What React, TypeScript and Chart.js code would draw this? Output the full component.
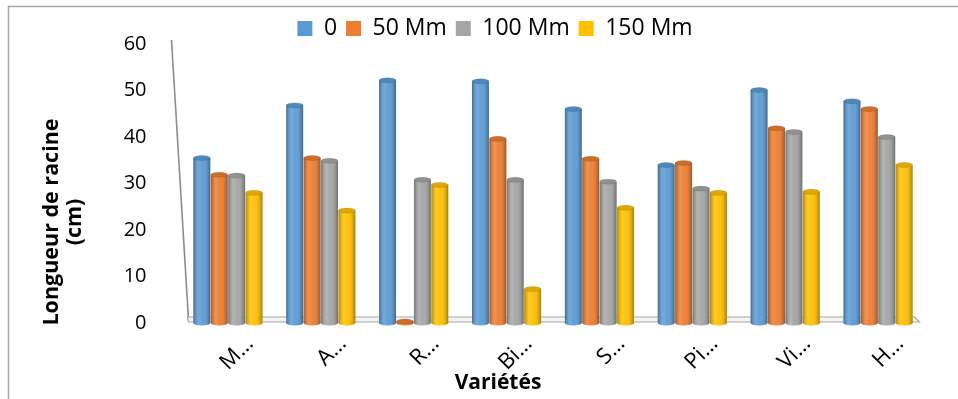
import { useEffect, useRef } from 'react';
import { Chart, registerables } from 'chart.js';

Chart.register(...registerables);

const categories = ['M…', 'A…', 'R…', 'Bi…', 'S…', 'Pi…', 'Vi…', 'H…'];
const seriesNames = ['0', '50 Mm', '100 Mm', '150 Mm'];
const values0 = [35.5, 46.8, 52.2, 52.0, 46.0, 34.0, 50.1, 47.7];
const values50 = [31.9, 35.5, 0.3, 39.6, 35.3, 34.4, 41.9, 46.0];
const values100 = [31.7, 34.9, 30.8, 30.8, 30.4, 28.9, 41.1, 40.0];
const values150 = [28.0, 24.2, 29.7, 7.3, 24.8, 28.0, 28.2, 34.0];
const yTicks = [0, 10, 20, 30, 40, 50, 60];
const colors = ['#5B9BD5', '#ED7D31', '#A5A5A5', '#FFC000'];
const yTitle = ['Longueur de racine', '(cm)'];
const xTitle = 'Variétés';

const FONT = '"Open Sans", "Noto Sans", sans-serif';

const deco = {
  id: 'deco',
  beforeDraw(chart: any) {
    const ctx = chart.ctx;
    ctx.save();
    ctx.fillStyle = '#ffffff';
    ctx.fillRect(0, 0, chart.width, chart.height);
    ctx.strokeStyle = '#a6a6a6';
    ctx.lineWidth = 1.5;
    ctx.beginPath();
    ctx.moveTo(8.5, chart.height);
    ctx.lineTo(8.5, 6.5);
    ctx.lineTo(chart.width, 6.5);
    ctx.stroke();
    ctx.restore();
  },
  beforeDatasetsDraw(chart: any) {
    const { ctx, chartArea: a } = chart;
    ctx.save();
    ctx.strokeStyle = '#8c8c8c';
    ctx.lineWidth = 1.6;
    ctx.beginPath();
    ctx.moveTo(a.left - 10, a.top - 4);
    ctx.lineTo(a.left + 7, a.bottom - 3);
    ctx.stroke();
    ctx.beginPath();
    ctx.moveTo(a.left + 6, a.bottom - 6);
    ctx.lineTo(a.right - 10, a.bottom - 6);
    ctx.lineTo(a.right - 5, a.bottom - 1);
    ctx.lineTo(a.left + 7, a.bottom - 1);
    ctx.closePath();
    ctx.fillStyle = '#f4f4f4';
    ctx.fill();
    ctx.strokeStyle = '#a6a6a6';
    ctx.lineWidth = 1.2;
    ctx.stroke();
    ctx.restore();
  },
  afterDatasetsDraw(chart: any) {
    const ctx = chart.ctx;
    ctx.save();
    chart.getSortedVisibleDatasetMetas().forEach((meta: any) => {
      const col = colors[meta.index];
      meta.data.forEach((el: any) => {
        const { x, y, base, width } = el.getProps(['x', 'y', 'base', 'width'], true);
        const l = x - width / 2;
        const g = ctx.createLinearGradient(l, 0, l + width, 0);
        g.addColorStop(0, 'rgba(0,0,0,0.30)');
        g.addColorStop(0.3, 'rgba(255,255,255,0.16)');
        g.addColorStop(0.55, 'rgba(255,255,255,0.04)');
        g.addColorStop(1, 'rgba(0,0,0,0.34)');
        ctx.beginPath();
        ctx.ellipse(x, base, width / 2, 2.5, 0, 0, Math.PI);
        ctx.fillStyle = col;
        ctx.fill();
        ctx.fillStyle = g;
        ctx.fill();
        ctx.fillRect(l, y, width, base - y);
        ctx.beginPath();
        ctx.ellipse(x, y, width / 2, 2.5, 0, 0, Math.PI * 2);
        ctx.fillStyle = col;
        ctx.fill();
        ctx.fillStyle = 'rgba(0,0,0,0.12)';
        ctx.fill();
        ctx.strokeStyle = 'rgba(0,0,0,0.18)';
        ctx.lineWidth = 0.6;
        ctx.stroke();
      });
    });
    ctx.restore();
  },
  afterDraw(chart: any) {
    const ctx = chart.ctx;
    ctx.save();
    ctx.fillStyle = '#000';
    ctx.textAlign = 'center';
    ctx.textBaseline = 'middle';
    ctx.font = `bold 21.5px ${FONT}`;
    ctx.translate(63, 222);
    ctx.rotate(-Math.PI / 2);
    ctx.fillText(yTitle[0], 0, -11);
    ctx.fillText(yTitle[1], 0, 12);
    ctx.restore();
    ctx.save();
    ctx.fillStyle = '#000';
    ctx.textAlign = 'center';
    ctx.textBaseline = 'middle';
    ctx.font = `bold 21px ${FONT}`;
    ctx.fillText(xTitle, 498, 383);
    ctx.restore();
  },
};

export default function App() {
  const ref = useRef<HTMLCanvasElement | null>(null);
  useEffect(() => {
    document.body.style.margin = '0';
    const canvas = ref.current;
    if (!canvas) return;
    const data = [values0, values50, values100, values150];
    const chart = new Chart(canvas, {
      type: 'bar',
      data: {
        labels: categories,
        datasets: seriesNames.map((name, i) => ({
          label: name,
          data: data[i],
          backgroundColor: colors[i],
          borderWidth: 0,
          barPercentage: 0.97,
          categoryPercentage: 0.75,
        })),
      },
      plugins: [deco],
      options: {
        responsive: false,
        animation: false,
        layout: { padding: { left: 32, right: 0, top: 8, bottom: 0 } },
        plugins: {
          legend: {
            position: 'top',
            maxHeight: 36,
            labels: {
              boxWidth: 15,
              boxHeight: 15,
              padding: 9,
              color: '#000',
              font: { family: FONT, size: 23 },
            },
          },
          tooltip: { enabled: false },
        },
        scales: {
          x: {
            grid: { display: false },
            border: { display: false },
            ticks: {
              autoSkip: false,
              minRotation: 45,
              maxRotation: 45,
              labelOffset: 22,
              padding: 0,
              color: '#000',
              font: { family: FONT, size: 22 },
            },
            afterFit: (s: any) => {
              s.height = 76;
            },
          },
          y: {
            min: 0,
            max: 60,
            grid: { display: false },
            border: { display: false },
            afterBuildTicks: (s: any) => {
              s.ticks = yTicks.map((v) => ({ value: v }));
            },
            ticks: {
              padding: 27,
              color: '#000',
              font: { family: FONT, size: 20 },
            },
            afterFit: (s: any) => {
              s.width = 149.5;
            },
          },
          yR: {
            position: 'right',
            display: true,
            grid: { display: false },
            border: { display: false },
            ticks: { display: false },
            afterFit: (s: any) => {
              s.width = 33.5;
            },
          },
        },
      },
    } as any);
    return () => chart.destroy();
  }, []);
  return (
    <div style={{ position: 'absolute', left: 0, top: 0, width: 958, height: 399 }}>
      <canvas ref={ref} width={958} height={399} style={{ width: 958, height: 399, display: 'block' }} />
    </div>
  );
}
